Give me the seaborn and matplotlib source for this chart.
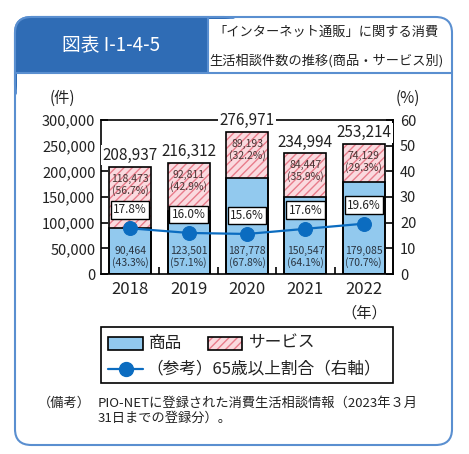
import numpy as np
import pandas as pd
import matplotlib
matplotlib.use('Agg')
import matplotlib.pyplot as plt
import seaborn as sns
from matplotlib.patches import FancyBboxPatch, Rectangle
from matplotlib.lines import Line2D
import matplotlib.transforms as mtransforms

# ---- data ----
years = ['2018', '2019', '2020', '2021', '2022']
goods = [90464, 123501, 187778, 150547, 179085]
services = [118473, 92811, 89193, 84447, 74129]
totals = [208937, 216312, 276971, 234994, 253214]
goods_share = [43.3, 57.1, 67.8, 64.1, 70.7]
service_share = [56.7, 42.9, 32.2, 35.9, 29.3]
elderly_pct = [17.8, 16.0, 15.6, 17.6, 19.6]
left_ticks = [0, 50000, 100000, 150000, 200000, 250000, 300000]
right_ticks = [0, 10, 20, 30, 40, 50, 60]

sns.set_theme(style='white')
plt.rcParams['font.family'] = ['Noto Sans CJK JP', 'DejaVu Sans']
plt.rcParams['hatch.linewidth'] = 1.0

blue = '#92c9ee'
pink = '#fadadf'
stripe = '#e87c8b'
line_blue = '#0b6cc0'
frame_blue = '#5a8fd0'
head_blue = '#2f6cb5'
txt = '#222222'

W, H = 469, 454
fig = plt.figure(figsize=(W / 100, H / 100), dpi=100)
fig.patch.set_facecolor('white')


def fx(x):
    return x / W


def fy(y):
    return 1 - y / H


# ---- frame ----
outer = FancyBboxPatch((fx(15), fy(445)), fx(452) - fx(15), fy(17) - fy(445),
                       boxstyle='round,pad=0,rounding_size=0.035',
                       transform=fig.transFigure, fc='white', ec=frame_blue, lw=1.5, zorder=-5)
fig.add_artist(outer)
head = FancyBboxPatch((fx(15), fy(100)), fx(240) - fx(15), fy(17) - fy(100),
                      boxstyle='round,pad=0,rounding_size=0.035',
                      transform=fig.transFigure, fc=head_blue, ec=frame_blue, lw=1.5, zorder=-4)
fig.add_artist(head)
fig.add_artist(Rectangle((fx(16.5), fy(110)), fx(450.5) - fx(16.5), fy(73.5) - fy(110),
                         transform=fig.transFigure, fc='white', ec='none', zorder=-3))
fig.add_artist(Rectangle((fx(208), fy(72.5)), fx(440) - fx(208), fy(18.5) - fy(72.5),
                         transform=fig.transFigure, fc='white', ec='none', zorder=-3))
fig.add_artist(Line2D([fx(208), fx(208)], [fy(17), fy(73)], transform=fig.transFigure,
                      color=frame_blue, lw=1.5, zorder=-2))
fig.add_artist(Line2D([fx(15), fx(452)], [fy(73), fy(73)], transform=fig.transFigure,
                      color=frame_blue, lw=1.5, zorder=-2))

fig.text(fx(111), fy(46), '図表 I-1-4-5', color='white', fontsize=13.5,
         ha='center', va='center')
fig.text(fx(326), fy(32), '「インターネット通販」に関する消費', color=txt, fontsize=9.5,
         ha='center', va='center')
fig.text(fx(326), fy(61), '生活相談件数の推移(商品・サービス別)', color=txt, fontsize=9.5,
         ha='center', va='center')

# ---- axes ----
ax1 = fig.add_axes([fx(101), fy(274), fx(393) - fx(101), fy(120) - fy(274)])
ax1.patch.set_alpha(0)
df = pd.DataFrame({'year': years, 'goods': goods, 'services': services, 'total': totals})

sns.barplot(data=df, x='year', y='total', color=pink, width=0.72, linewidth=0,
            saturation=1, errorbar=None, ax=ax1)
for p in ax1.patches:
    p.set_hatch('////')
    p.set_edgecolor(stripe)
    p.set_linewidth(0)
n0 = len(ax1.patches)
sns.barplot(data=df, x='year', y='goods', color=blue, width=0.72, saturation=1,
            errorbar=None, ax=ax1)
for p in ax1.patches[n0:]:
    p.set_edgecolor('black')
    p.set_linewidth(1.2)
n1 = len(ax1.patches)
sns.barplot(data=df, x='year', y='total', fill=False, width=0.72,
            errorbar=None, ax=ax1)
for p in ax1.patches[n1:]:
    p.set_edgecolor('black')
    p.set_facecolor('none')
    p.set_linewidth(1.2)

ax1.set_xlim(-0.5, 4.5)
ax1.set_ylim(0, 300000)
ax1.set_xlabel('')
ax1.set_ylabel('')
ax1.set_yticks(left_ticks)
ax1.set_yticklabels([f'{v:,}' for v in left_ticks], fontsize=10.5, color=txt)
ax1.set_xticks(range(len(years)))
ax1.set_xticklabels(years, fontsize=12, color=txt)
ax1.set_xticks([0.5, 1.5, 2.5, 3.5], minor=True)
ax1.tick_params(axis='x', which='major', length=0, pad=5, bottom=True)
ax1.tick_params(axis='x', which='minor', direction='in', length=5, width=1.2,
                color='black', bottom=True, top=False)
ax1.tick_params(axis='y', direction='in', length=5, width=1.2, color='black',
                left=True, pad=4)
for s in ax1.spines.values():
    s.set_visible(True)
    s.set_color('black')
    s.set_linewidth(1.2)

ax2 = ax1.twinx()
sns.lineplot(x=np.arange(len(years)), y=elderly_pct, ax=ax2, color=line_blue,
             lw=1.6, marker='o', markersize=10, markeredgecolor=line_blue,
             legend=False, zorder=4)
ax2.set_ylim(0, 60)
ax2.set_xlim(-0.5, 4.5)
ax2.set_ylabel('')
ax2.set_yticks(right_ticks)
ax2.set_yticklabels([str(v) for v in right_ticks], fontsize=10.5, color=txt)
ax2.tick_params(axis='y', direction='in', length=5, width=1.2, color='black',
                right=True, pad=5)
for k in ['top', 'left', 'bottom']:
    ax2.spines[k].set_visible(False)
ax2.spines['right'].set_color('black')
ax2.spines['right'].set_linewidth(1.2)

# ---- labels ----
for i in range(len(years)):
    ax2.text(i, totals[i] + 22000, f'{totals[i]:,}', transform=ax1.transData,
             ha='center', va='center', fontsize=11, color=txt, zorder=6,
             bbox=dict(boxstyle='square,pad=0.1', fc='white', ec='none'))
    ax1.text(i, totals[i] - 35000, f'{services[i]:,}\n({service_share[i]}%)',
             ha='center', va='center', fontsize=7.5, color='#4a3434', linespacing=1.15)
    ax1.text(i, 33000, f'{goods[i]:,}\n({goods_share[i]}%)',
             ha='center', va='center', fontsize=7.5, color='#2a3440', linespacing=1.15)
    ax2.text(i, elderly_pct[i] + 7.2, f'{elderly_pct[i]}%', ha='center', va='center',
             fontsize=8.5, color=txt, zorder=6,
             bbox=dict(boxstyle='square,pad=0.2', fc='white', ec='black', lw=1))

ax1.text(4, -0.255, '（年）', transform=mtransforms.blended_transform_factory(ax1.transData, ax1.transAxes),
         ha='center', va='center', fontsize=11, color=txt)
fig.text(fx(62), fy(98), '(件)', ha='center', va='center', fontsize=11, color=txt)
fig.text(fx(408), fy(98), '(%)', ha='center', va='center', fontsize=11, color=txt)

# ---- legend ----
fig.add_artist(Rectangle((fx(101), fy(383)), fx(393) - fx(101), fy(327) - fy(383),
                         transform=fig.transFigure, fc='white', ec='black', lw=1.2))
fig.add_artist(Rectangle((fx(108), fy(350)), fx(143) - fx(108), fy(337) - fy(350),
                         transform=fig.transFigure, fc=blue, ec='black', lw=1.2))
hp = Rectangle((fx(208), fy(350)), fx(242) - fx(208), fy(337) - fy(350),
               transform=fig.transFigure, fc=pink, ec=stripe, lw=0, hatch='////')
fig.add_artist(hp)
fig.add_artist(Rectangle((fx(208), fy(350)), fx(242) - fx(208), fy(337) - fy(350),
                         transform=fig.transFigure, fc='none', ec='black', lw=1.2))
fig.text(fx(149), fy(343), '商品', ha='left', va='center', fontsize=12, color=txt)
fig.text(fx(249), fy(343), 'サービス', ha='left', va='center', fontsize=12, color=txt)
fig.add_artist(Line2D([fx(108), fx(143)], [fy(369), fy(369)], transform=fig.transFigure,
                      color=line_blue, lw=1.6))
fig.add_artist(Line2D([fx(125.5)], [fy(369)], transform=fig.transFigure, color=line_blue,
                      marker='o', markersize=10))
fig.text(fx(146), fy(369), '（参考）65歳以上割合（右軸）', ha='left', va='center',
         fontsize=12, color=txt)

# ---- footnote ----
fig.text(fx(38), fy(403), '（備考）', ha='left', va='center', fontsize=9.5, color=txt)
fig.text(fx(98), fy(403), 'PIO-NETに登録された消費生活相談情報（2023年３月',
         ha='left', va='center', fontsize=9.5, color=txt)
fig.text(fx(98), fy(418), '31日までの登録分）。', ha='left', va='center',
         fontsize=9.5, color=txt)

fig.savefig('out.png', dpi=100, facecolor='white')
